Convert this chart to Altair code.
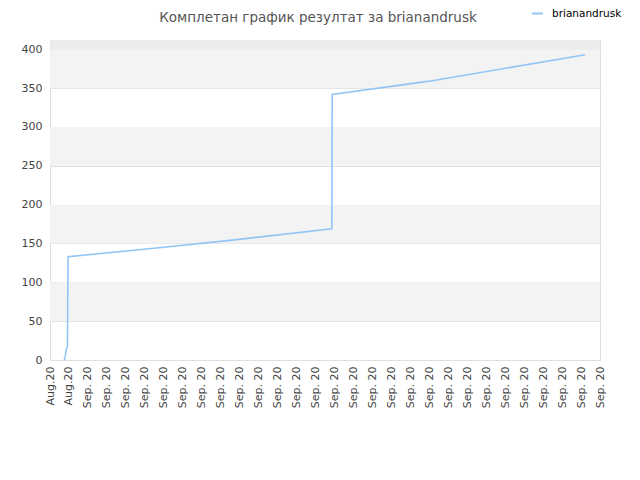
import altair as alt
import pandas as pd

# --- data ---
series_name = "brianandrusk"
x_pos = [0.75, 0.80, 0.86, 0.92, 0.95, 4.7, 9.5, 14.86, 14.88, 20.0, 28.21]
y_val = [0, 4, 14, 17, 133, 142, 154, 169, 342, 359, 393]
tick_labels = ["Aug.20", "Aug.20"] + ["Sep. 20"] * 28
y_ticks = [0, 50, 100, 150, 200, 250, 300, 350, 400]
band_lo = [50, 150, 250, 350, 400]
band_hi = [100, 200, 300, 400, 412]
band_col = ["#f3f3f3", "#f3f3f3", "#f3f3f3", "#f3f3f3", "#ececec"]
title_text = "Комплетан график резултат за brianandrusk"

line_df = pd.DataFrame({"x": x_pos, "y": y_val, "i": list(range(len(x_pos))),
                        "s": [series_name] * len(x_pos)})
band_df = pd.DataFrame({"lo": band_lo, "hi": band_hi, "c": band_col})
title_df = pd.DataFrame({"t": [title_text]})

label_arr = "[" + ",".join("'" + t + "'" for t in tick_labels) + "]"
FONT = "DejaVu Sans"

xscale = alt.Scale(domain=[0, len(tick_labels) - 1], nice=False, zero=False)
yscale = alt.Scale(domain=[0, 412], nice=False)
yaxis = alt.Axis(values=y_ticks, title=None, grid=True, gridColor="#e0e0e0",
                 ticks=False, domain=False, labelOverlap=False, tickCount=9,
                 labelFont=FONT, labelFontSize=11, labelColor="#444", labelPadding=8)

bands = alt.Chart(band_df).mark_rect().encode(
    x=alt.value(0), x2=alt.value(550),
    y=alt.Y("lo:Q", scale=yscale, axis=yaxis),
    y2="hi:Q",
    fill=alt.Fill("c:N", scale=None, legend=None),
)

line = alt.Chart(line_df).mark_line(strokeWidth=1.6, interpolate="linear").encode(
    x=alt.X("x:Q", scale=xscale,
            axis=alt.Axis(values=list(range(len(tick_labels))), title=None, grid=False,
                          ticks=False, domain=False,
                          labelExpr=label_arr + "[round(datum.value)]",
                          labelAngle=270, labelFont=FONT, labelFontSize=11,
                          labelColor="#444", labelPadding=6, labelOverlap=False,
                          labelBound=False, labelFlush=False)),
    y=alt.Y("y:Q", scale=yscale, axis=yaxis),
    order="i:Q",
    color=alt.Color("s:N", scale=alt.Scale(range=["#92c5f5"]),
                    legend=alt.Legend(title=None, orient="none", legendX=481, legendY=-33,
                                      symbolType="stroke", symbolStrokeWidth=2,
                                      symbolSize=120, labelFont=FONT, labelFontSize=10.5,
                                      labelColor="#000", labelOffset=8)),
)

title = alt.Chart(title_df).mark_text(
    font=FONT, fontSize=13.5, color="#555", align="center", baseline="alphabetic"
).encode(text="t:N", x=alt.value(268), y=alt.value(-18))

chart = alt.layer(bands, line, title).properties(
    width=550, height=320,
    autosize=alt.AutoSizeParams(type="none"),
    padding={"left": 42, "top": 32, "right": 30, "bottom": 110},
).configure_view(stroke="#dddddd", strokeWidth=1).configure(background="white")

chart.save("out.html", embed_options={"renderer": "svg", "actions": False})
